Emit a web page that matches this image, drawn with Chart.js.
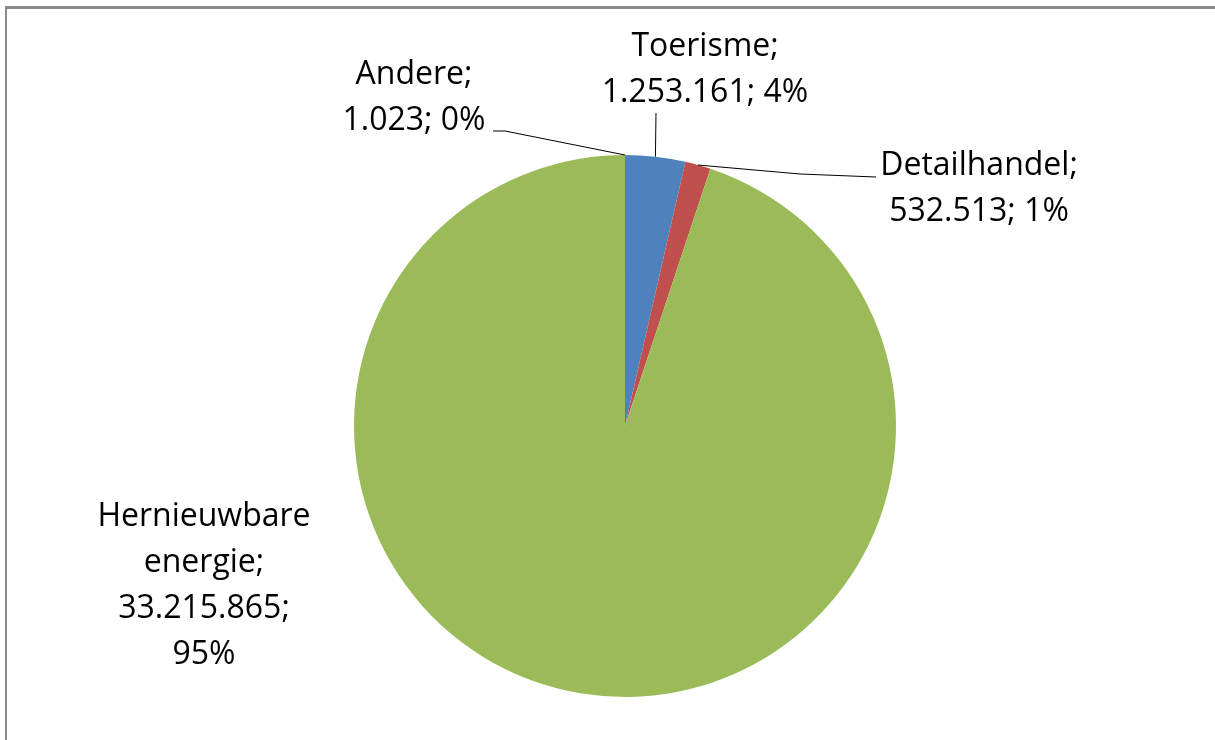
<!DOCTYPE html>
<html>
<head>
<meta charset="utf-8">
<script src="https://cdn.jsdelivr.net/npm/chart.js@4"></script>
<style>
    html, body { margin: 0; padding: 0; background: #fff; }
    #wrap { position: relative; width: 1215px; height: 740px; overflow: hidden; }
    #frame {
        position: absolute; left: 5px; top: 6px; width: 1300px; height: 800px;
        border-top: 3px solid #898989; border-left: 2px solid #898989;
    }
    #chart-sector { position: absolute; left: 0; top: 0; }
</style>
</head>
<body>
<div id="wrap">
    <div id="frame"></div>
    <canvas id="chart-sector" width="1215" height="740"></canvas>
</div>
<script>
const sectors = ['Toerisme', 'Detailhandel', 'Hernieuwbare energie', 'Andere'];
const amounts = [1253161, 532513, 33215865, 1023];
const sectorColors = ['#4F81BD', '#C0504D', '#9BBB59', '#8064A2'];

// label text lines per sector
const labelLines = [
    ['Toerisme;', '1.253.161; 4%'],
    ['Detailhandel;', '532.513; 1%'],
    ['Hernieuwbare', 'energie;', '33.215.865;', '95%'],
    ['Andere;', '1.023; 0%']
];

// where each label sits and how its leader line runs
const labelLayout = [
    { x: 705, y: 47, leader: [[656, 113]] },
    { x: 979, y: 166, leader: [[800, 174], [876, 177]] },
    { x: 204, y: 517, leader: null },
    { x: 414, y: 75, leader: [[505, 131], [493, 131]] }
];

const lineHeight = 46;

const labelPlugin = {
    id: 'sectorLabels',
    afterDatasetsDraw(chart) {
        const ctx = chart.ctx;
        const arcs = chart.getDatasetMeta(0).data;
        ctx.save();
        arcs.forEach((arc, i) => {
            const layout = labelLayout[i];
            if (layout.leader) {
                const mid = (arc.startAngle + arc.endAngle) / 2;
                const sx = arc.x + Math.cos(mid) * arc.outerRadius;
                const sy = arc.y + Math.sin(mid) * arc.outerRadius;
                ctx.beginPath();
                ctx.moveTo(sx, sy);
                layout.leader.forEach(p => ctx.lineTo(p[0], p[1]));
                ctx.strokeStyle = '#000';
                ctx.lineWidth = 1;
                ctx.stroke();
            }
            ctx.fillStyle = '#000';
            ctx.font = '32px "Open Sans"';
            ctx.textAlign = 'center';
            ctx.textBaseline = 'middle';
            labelLines[i].forEach((line, j) => {
                ctx.fillText(line, layout.x, layout.y + j * lineHeight);
            });
        });
        ctx.restore();
    }
};

new Chart(document.getElementById('chart-sector').getContext('2d'), {
    type: 'pie',
    data: {
        labels: sectors,
        datasets: [{
            data: amounts,
            backgroundColor: sectorColors,
            borderWidth: 0,
            hoverOffset: 0,
            offset: 0
        }]
    },
    options: {
        responsive: false,
        animation: false,
        layout: {
            padding: { top: 155, bottom: 43, left: 354, right: 319 }
        },
        plugins: {
            legend: { display: false },
            tooltip: { enabled: false }
        }
    },
    plugins: [labelPlugin]
});
</script>
</body>
</html>
